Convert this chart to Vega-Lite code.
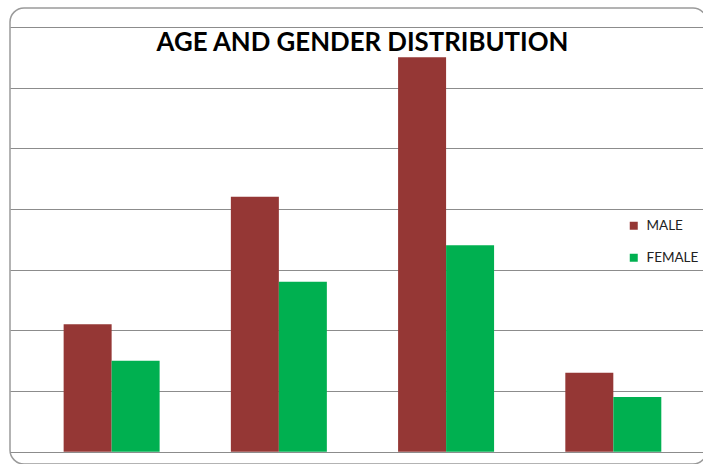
{
  "$schema": "https://vega.github.io/schema/vega-lite/v6.json",
  "autosize": {"type": "none"},
  "padding": {"left": 10, "top": 8, "right": 0, "bottom": 0},
  "width": 697,
  "height": 456,
  "background": "white",
  "title": {
    "text": "AGE AND GENDER DISTRIBUTION",
    "font": "Lato",
    "fontSize": 25.8,
    "fontWeight": "bold",
    "color": "#000000",
    "anchor": "middle",
    "offset": -49,
    "dx": 4
  },
  "data": {
    "values": [
      {"age": "Group 1", "gender": "MALE", "count": 21},
      {"age": "Group 1", "gender": "FEMALE", "count": 15},
      {"age": "Group 2", "gender": "MALE", "count": 42},
      {"age": "Group 2", "gender": "FEMALE", "count": 28},
      {"age": "Group 3", "gender": "MALE", "count": 65},
      {"age": "Group 3", "gender": "FEMALE", "count": 34},
      {"age": "Group 4", "gender": "MALE", "count": 13},
      {"age": "Group 4", "gender": "FEMALE", "count": 9}
    ]
  },
  "mark": {"type": "bar"},
  "encoding": {
    "x": {
      "field": "age",
      "type": "nominal",
      "sort": null,
      "axis": null,
      "scale": {"paddingInner": 0.426, "paddingOuter": 0.297, "align": 0.54}
    },
    "xOffset": {
      "field": "gender",
      "type": "nominal",
      "sort": ["MALE", "FEMALE"],
      "scale": {"paddingInner": 0, "paddingOuter": 0}
    },
    "y": {
      "field": "count",
      "type": "quantitative",
      "scale": {"domain": [-2.03, 73.1], "nice": false, "zero": false},
      "axis": {
        "values": [0, 10, 20, 30, 40, 50, 60, 70],
        "grid": true,
        "gridColor": "#8c8c8c",
        "gridWidth": 1,
        "labels": false,
        "ticks": false,
        "domain": false,
        "title": null
      }
    },
    "y2": {"datum": 0},
    "color": {
      "field": "gender",
      "type": "nominal",
      "sort": ["MALE", "FEMALE"],
      "scale": {"domain": ["MALE", "FEMALE"], "range": ["#953735", "#00B050"]},
      "legend": {
        "title": null,
        "orient": "none",
        "legendX": 617,
        "legendY": 211,
        "symbolType": "square",
        "symbolSize": 64,
        "symbolStrokeWidth": 0,
        "labelFont": "Lato",
        "labelFontSize": 13.5,
        "labelColor": "#222222",
        "labelOffset": 6,
        "rowPadding": 17
      }
    }
  },
  "config": {
    "view": {"stroke": "#9a9a9a", "strokeWidth": 1.5, "cornerRadius": 14}
  }
}
